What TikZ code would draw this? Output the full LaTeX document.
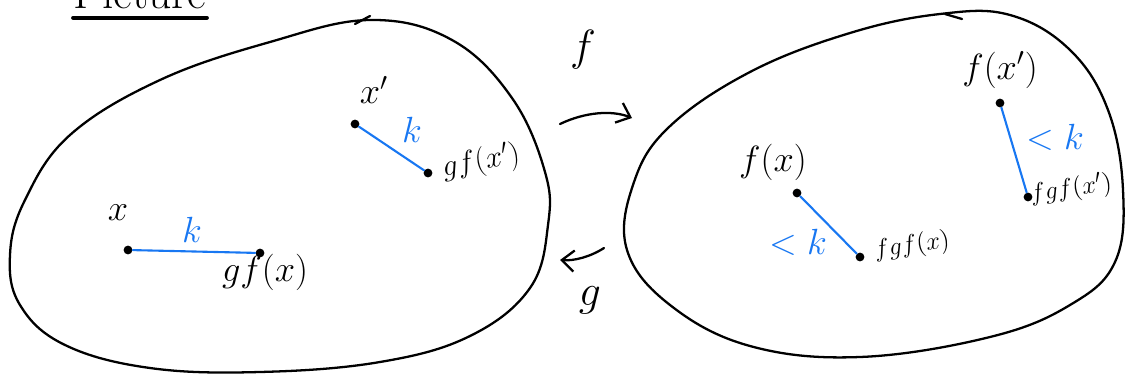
\documentclass[tikz,border=0pt]{standalone}
\usepackage{amsmath}
\usepackage{tikz}
\usetikzlibrary{arrows.meta}

\definecolor{inkblue}{RGB}{24,119,242}

\begin{document}
\begin{tikzpicture}[x=0.02cm,y=0.02cm,>={Straight Barb[length=7pt,width=12pt]},
  ink/.style={line width=1.3pt, line cap=round, line join=round},
  kline/.style={inkblue, line width=1.2pt, line cap=round},
  pnt/.style={circle, fill=black, inner sep=0pt, minimum size=5pt},
  lbl/.style={font=\fontsize{20}{24}\selectfont},
  sml/.style={font=\fontsize{15}{18}\selectfont},
  klbl/.style={inkblue, font=\fontsize{20}{24}\selectfont}]
  \useasboundingbox (0,0) rectangle (1125,-375);

  % title
  \node[inner sep=0pt, anchor=base, font=\fontsize{26}{30}\selectfont] (title) at (140,-9) {Picture};
  \draw[line width=2.4pt, line cap=round] ([yshift=-5pt]title.base west) -- ([yshift=-5pt]title.base east);

  % the two blobs
  \draw[ink] plot[smooth cycle, tension=0.65] coordinates {(370,-20) (452,-40) (512,-98) (545,-172) (548,-225) (530,-288) (470,-336) (380,-362) (260,-372) (150,-368) (65,-345) (20,-305) (10,-255) (25,-200) (70,-135) (160,-80) (270,-42)};
  \draw[ink] (355,-24) -- (370,-16);
  \draw[ink] plot[smooth cycle, tension=0.65] coordinates {(668,-128) (750,-72) (850,-33) (940,-14) (1010,-15) (1070,-50) (1108,-110) (1123,-190) (1115,-262) (1070,-305) (990,-337) (860,-357) (750,-346) (670,-305) (627,-250) (633,-185)};
  \draw[ink] (945,-14) -- (962,-19);

  % left side
  \node[pnt] (x) at (128,-250) {};
  \node[pnt] (gfx) at (260,-253) {};
  \draw[kline] (x) -- (gfx);
  \node[lbl] at (118,-213) {$x$};
  \node[lbl] at (265,-272) {$gf(x)$};
  \node[klbl] at (192,-230) {$k$};

  \node[pnt] (xp) at (355,-124) {};
  \node[pnt] (gfxp) at (428,-173) {};
  \draw[kline] (xp) -- (gfxp);
  \node[lbl] at (374,-90) {$x'$};
  \node[lbl, rotate=10, font=\fontsize{18}{22}\selectfont] at (481,-162) {$gf(x')$};
  \node[klbl] at (412,-130) {$k$};

  % maps
  \coordinate (fa) at (560,-124);
  \coordinate (fb) at (632,-118);
  \draw[ink,->] (fa) .. controls (585,-112) and (612,-110) .. (fb);
  \node[lbl, font=\fontsize{24}{28}\selectfont] at (583,-50) {$f$};
  \coordinate (ga) at (604,-248);
  \coordinate (gb) at (560,-260);
  \draw[ink,->] (ga) .. controls (590,-257) and (574,-261) .. (gb);
  \node[lbl, font=\fontsize{24}{28}\selectfont] at (590,-300) {$g$};

  % right side
  \node[pnt] (fx) at (797,-193) {};
  \node[pnt] (fgfx) at (860,-257) {};
  \draw[kline] (fx) -- (fgfx);
  \node[lbl] at (773,-162) {$f(x)$};
  \node[sml, rotate=8] at (912,-246) {$fgf(x)$};
  \node[klbl] at (798,-242) {$<k$};

  \node[pnt] (fxp) at (1000,-103) {};
  \node[pnt] (fgfxp) at (1028,-197) {};
  \draw[kline] (fxp) -- (fgfxp);
  \node[lbl] at (1000,-70) {$f(x')$};
  \node[sml, rotate=8] at (1071,-189) {$fgf(x')$};
  \node[klbl] at (1055,-137) {$<k$};
\end{tikzpicture}
\end{document}
